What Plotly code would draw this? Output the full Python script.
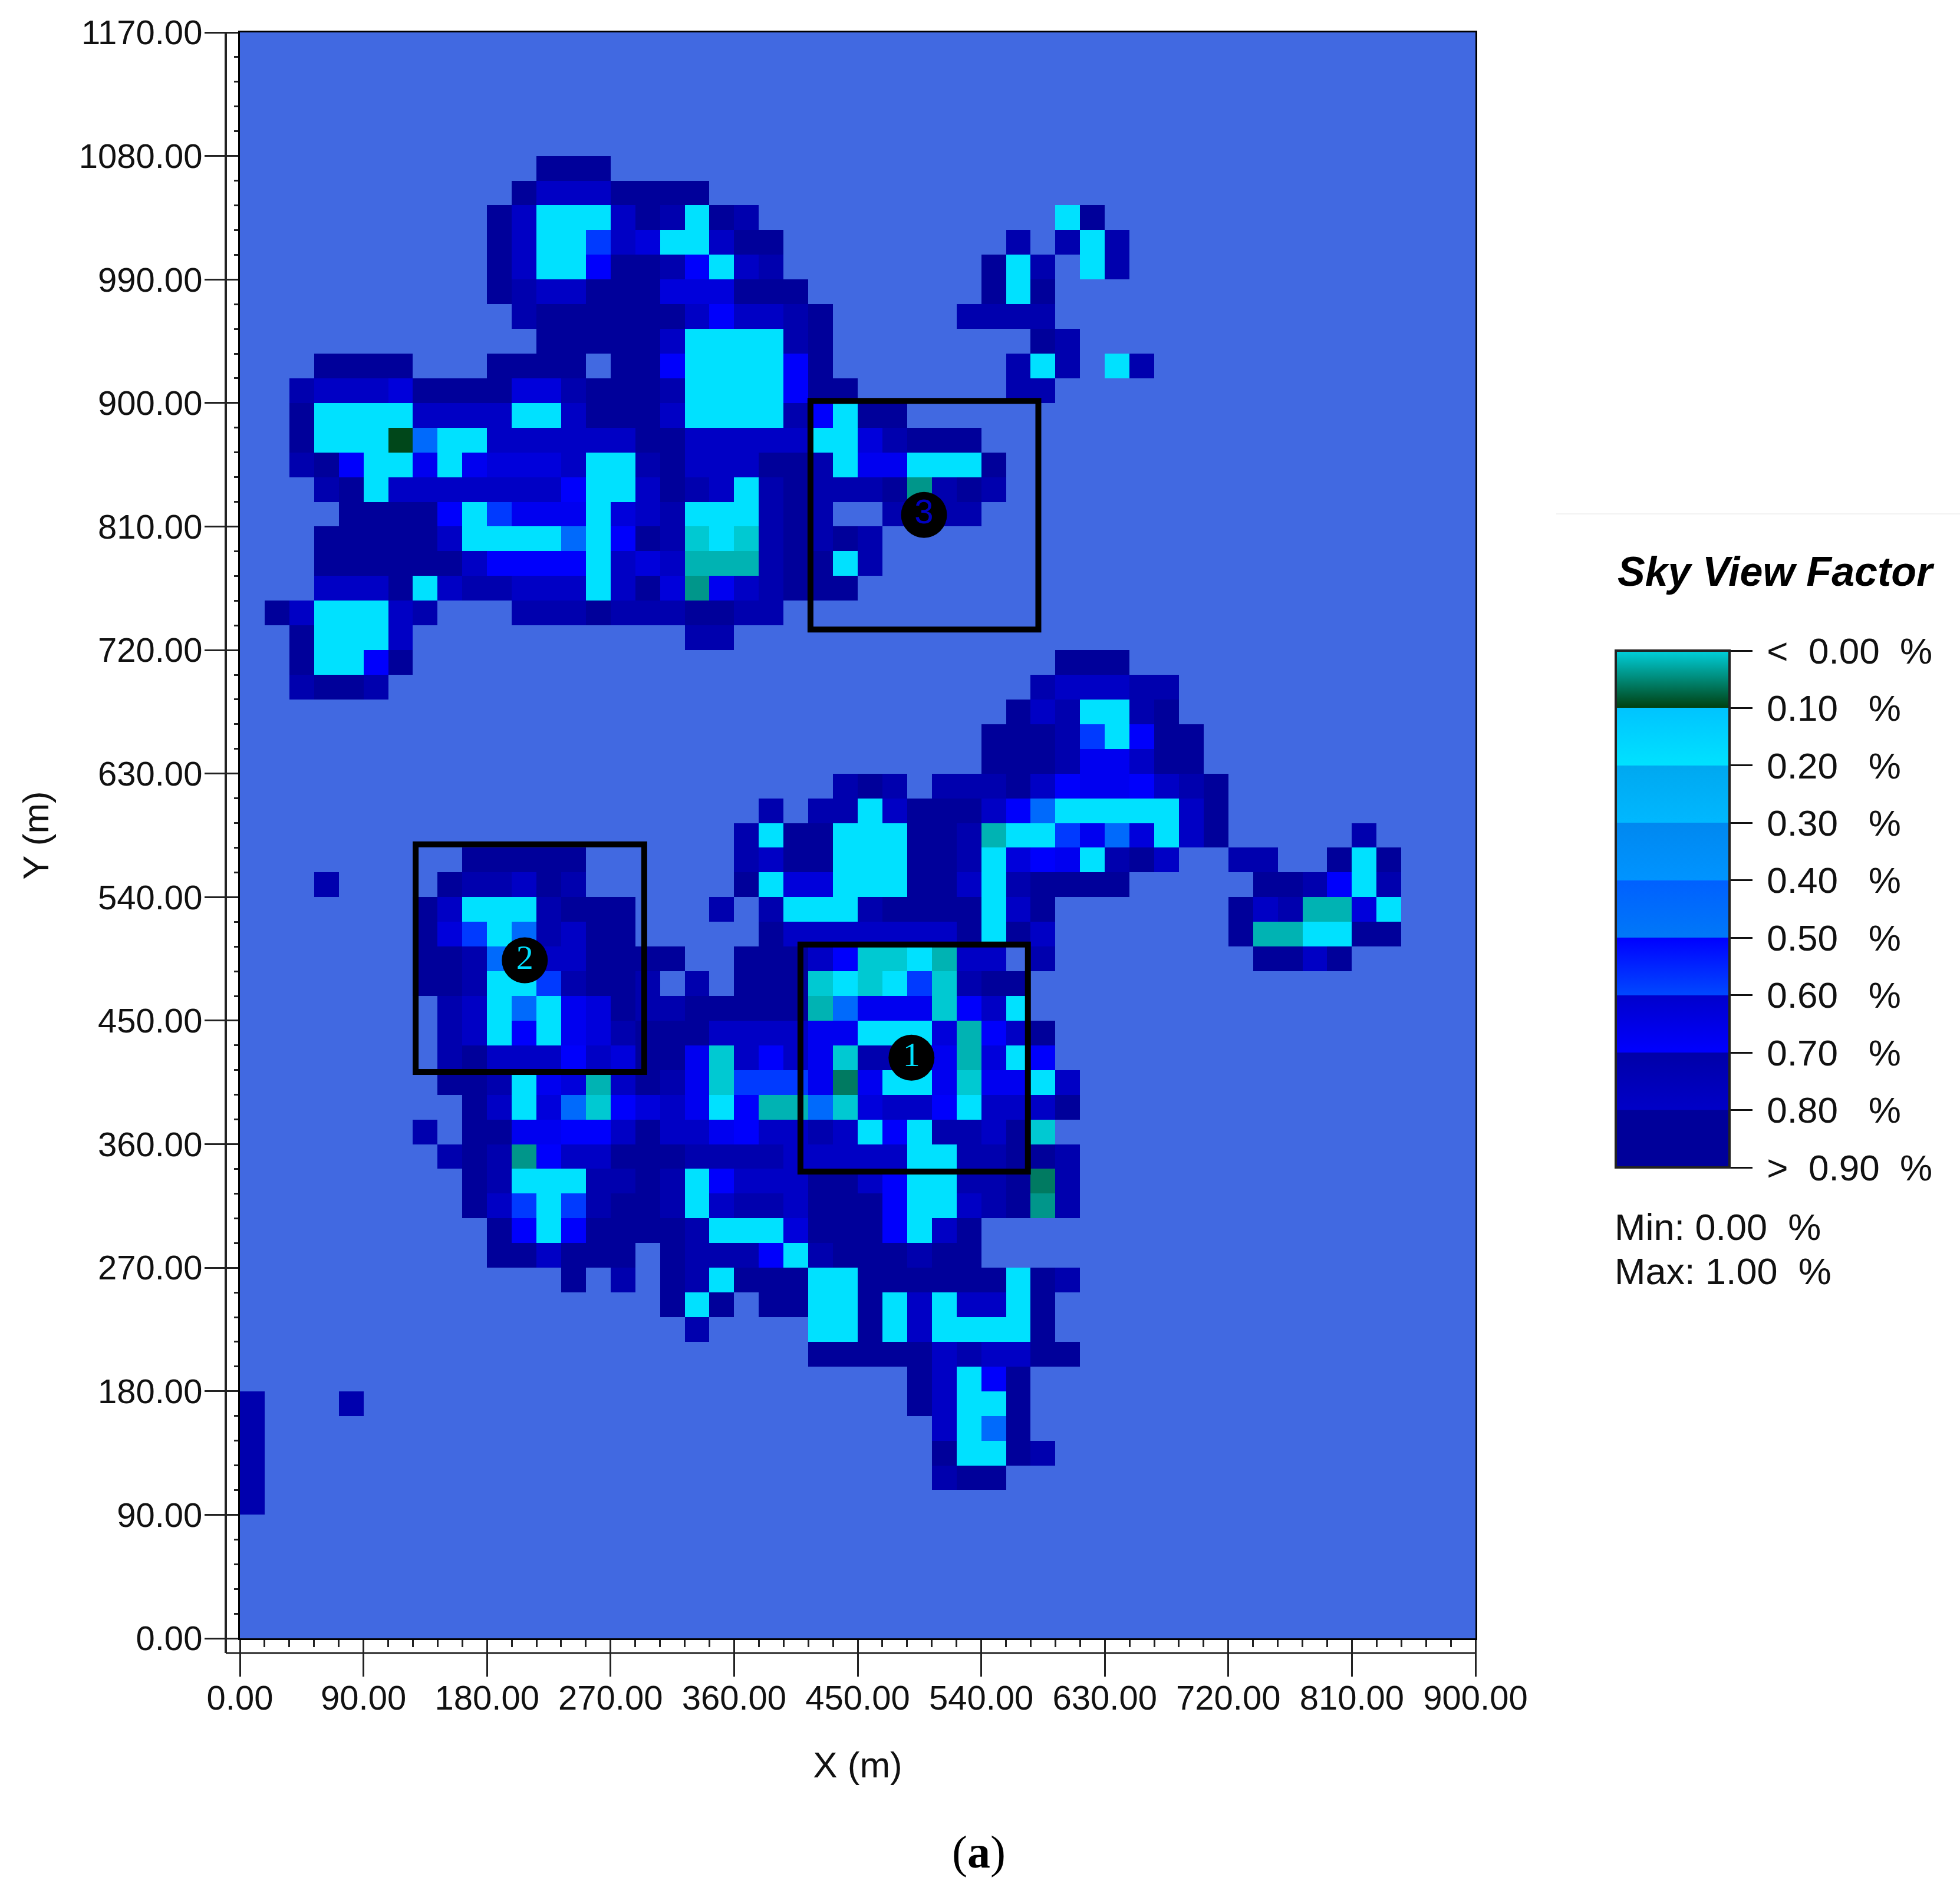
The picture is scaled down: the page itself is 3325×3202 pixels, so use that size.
import plotly.graph_objects as go

WIDTH, HEIGHT = 3325, 3202
PLOT_L, PLOT_R, PLOT_T, PLOT_B = 407, 2503, 55, 2780

# one letter per 18 m cell, top row first (y = 1170 going down), x = 0 going right
# "." is open ground (no building cover drawn), spaces are only for reading
SVF_ROWS = [
    "", "", "", "", "",
    ".......... .. aaa",
    ".......... . a ccc aaaa",
    ".......... a c iii c a b i a b .......... .. i a",
    ".......... a c ii g c d ii c aa ......... b . b i b",
    ".......... a c ii f aa b f i c b ........ a i b . i b",
    ".......... a b cc aaa ddd aaa ....... a i a",
    ".......... . b aaaaa a c f cc b a ..... bbbb",
    ".......... .. aaaaa c iiii b a ........ a b",
    "... aaaa ... aaaa . aa f iiii f a ....... b i b . i b",
    ".. b ccc d aaaa dd b aaa b iiii f aa ...... bb",
    ".. a iiii cccc ii c aaa c iiii b f i aa",
    ".. a iii n h ii cccccc aa ccccc ii d b aaa",
    ".. b a f ii e i e ddd c ii b a ccc aa b i ee iii a",
    "... b a i c cccccc f ii c a b c i b a bbb a l b a b",
    ".... aaaa f i g eee i d c b iii b a b .. bbbb",
    "... aaaaa c iiii h i f a b j i j b a b a b",
    "... aaaaaa c ffff i c d c kkk b aa i b",
    "... ccc a i c bb ccc i c a d l e c b aaa",
    ". a c iii c b ... bbb a bbb aa bb",
    ".. a iii c .......... . bb",
    ".. a ii f a .......... .......... ...... aaa",
    ".. b aa b .......... .......... ...... b ccc bb",
    ".......... .......... .......... . a c b ii b a",
    ".......... .......... .......... a a a b g i f a a",
    ".......... .......... .......... aaa b ee c aa",
    ".......... .......... .... b a b . bbb a c f ee f c b a",
    ".......... .......... . b . bb i c aaa c f h iiiii c a",
    ".......... .......... b i aa iii aa b k ii g e h d i c a ..... b",
    "......... aaaaa ...... b c aa iii aa b i d f e i b a c .. bb .. a i a",
    "... b .... a bb c a b ...... a i dd iii aa c i b aaaa ..... aa b f i b",
    "....... a c iii b a aa ... b . b iii b aaaa i c a ....... a c b kk d i",
    "....... a d g i h b c aa ..... a ccccccc a i a c ....... a kk ii aa",
    "....... aa b h b cc aa aa .. aaa c f jj i k cc . b ........ aa c a",
    "....... aa b ii g b aa b . b . aaa j i j i g j b aa",
    "........ b c i h i e d a bb aaaaa k h eee j f c i",
    "........ b c i f i e d b aaa cccc ee iii d k f c a",
    "........ b a ccc f c d aa e j c f c e j bb d e k d i f",
    "........ aa b i e d k c a b e j ggg e m e ii e j ee i c",
    "......... a c i d h j f d c e i f kk h j d cc f i ccc a",
    "....... b . aa ee ff c a cc e f cc b c i f i bb c a j",
    "........ b a b l f cc aaa bbbb ccccc ii bb a a b",
    "......... a b iii bb a b i f ccc aa c f ii bb a m b",
    "......... a c g i g b aa b i c bb c aaa f ii c b a l b",
    ".......... a f i f aaaa b iii d aaa f i c a",
    ".......... aa c aaa . a b bb f i b aaa b aa",
    ".......... ... a . b . a b i aaa ii aaaaaa i a b",
    ".......... ....... a i a . aa ii a i c i cc i a",
    ".......... ........ b .... ii a i c iiii a",
    ".......... .......... ... aaaaa c b cc aa",
    ".......... .......... ....... a c i f a",
    "b ... b .......... .......... .. a c ii a",
    "b .......... .......... ....... c i h a",
    "b .......... .......... ....... a ii a b",
    "b .......... .......... ....... b aa",
    "b",
    "", "", "", "", "",
]
# sky view factor read for each letter from the legend colours
CELL_VALUES = {
    "a": 0.85, "b": 0.72, "c": 0.79, "d": 0.63, "e": 0.67, "f": 0.695,
    "g": 0.58, "h": 0.44, "i": 0.195, "j": 0.005, "k": 0.02, "l": 0.04,
    "m": 0.06, "n": 0.095,
}
CELL_SIZE = 18

LEGEND_STOPS = [
    (0.0, "#00D0DC"), (0.0999, "#004010"),
    (0.1, "#00C4FF"), (0.1999, "#00E2FF"),
    (0.2, "#00A8F0"), (0.2999, "#00B8FF"),
    (0.3, "#0088F0"), (0.3999, "#0094FF"),
    (0.4, "#0060FF"), (0.4999, "#0078F8"),
    (0.5, "#0000FF"), (0.5999, "#0048FF"),
    (0.6, "#0000CC"), (0.6999, "#0000FF"),
    (0.7, "#0000A8"), (0.7999, "#0000C8"),
    (0.8, "#00009A"), (0.9, "#00009A"),
]
LEGEND_TICKS = [0.0, 0.1, 0.2, 0.3, 0.4, 0.5, 0.6, 0.7, 0.8, 0.9]
NB = "\u00a0"
THIN = "\u2009"
LEGEND_LABELS = [THIN + "<" + NB * 2 + "0.00" + NB * 2 + "%"] + [
    THIN + f"{t:.2f}" + NB * 3 + "%" for t in LEGEND_TICKS[1:-1]
] + [THIN + ">" + NB * 2 + "0.90" + NB * 2 + "%"]

# the three study boxes: x0, x1, y0, y1 in metres
BOXES = [
    (408.3, 574.0, 340.0, 505.5),
    (128.0, 294.5, 412.6, 578.4),
    (415.6, 581.6, 735.0, 901.5),
]
BADGE_X = [489.2, 207.5, 498.3]
BADGE_Y = [423.0, 494.0, 818.5]
BADGE_TEXT = ["1", "2", "3"]
BADGE_COLOR = ["#00E1FF", "#00E1FF", "#0000C0"]
BADGE_FONT = ["Liberation Serif", "Liberation Serif", "Liberation Sans"]

FONT = "Liberation Sans"


def px_x(px):
    return (px - PLOT_L) / (PLOT_R - PLOT_L)


def px_y(px):
    return (PLOT_B - px) / (PLOT_B - PLOT_T)


z = []
for row in SVF_ROWS:
    cells = row.replace(" ", "").ljust(50, ".")
    # the colour bar runs 0 at top to 0.9 at bottom, so the values are drawn negated
    z.append([-CELL_VALUES[c] if c in CELL_VALUES else None for c in cells])

colorscale = [[1 - s / 0.9, col] for s, col in reversed(LEGEND_STOPS)]

fig = go.Figure()
fig.add_trace(go.Heatmap(
    z=z, x0=CELL_SIZE / 2, dx=CELL_SIZE, y0=1170 - CELL_SIZE / 2, dy=-CELL_SIZE,
    zmin=-0.9, zmax=0, colorscale=colorscale, hoverongaps=False,
    colorbar=dict(
        xref="paper", yref="paper", x=px_x(2741), y=px_y(1104),
        xanchor="left", yanchor="top", thicknessmode="pixels", thickness=193,
        lenmode="pixels", len=877, xpad=0, ypad=0,
        outlinecolor="#222222", outlinewidth=4,
        tickmode="array", tickvals=[-t for t in LEGEND_TICKS], ticktext=LEGEND_LABELS,
        ticks="outside", ticklen=37, tickwidth=3, tickcolor="#111111",
        tickfont=dict(family=FONT, size=62, color="#111111"),
    ),
))
fig.add_trace(go.Scatter(
    x=BADGE_X, y=BADGE_Y, mode="markers+text", text=BADGE_TEXT,
    textposition="middle center",
    textfont=dict(family=BADGE_FONT, size=58, color=BADGE_COLOR),
    marker=dict(size=78, color="black"), showlegend=False, hoverinfo="skip",
))

for x0, x1, y0, y1 in BOXES:
    fig.add_shape(type="rect", x0=x0, x1=x1, y0=y0, y1=y1,
                  line=dict(color="black", width=10))

# second, outer axis frame of the original and the faint rule over the legend
fig.add_shape(type="line", xref="paper", yref="paper",
              x0=px_x(383), x1=px_x(383), y0=1, y1=px_y(2805),
              line=dict(color="#222222", width=4))
fig.add_shape(type="line", xref="paper", yref="paper",
              x0=px_x(383), x1=1, y0=px_y(2805), y1=px_y(2805),
              line=dict(color="#222222", width=3))
fig.add_shape(type="line", xref="paper", yref="paper",
              x0=px_x(2640), x1=px_x(3325), y0=px_y(872), y1=px_y(872),
              line=dict(color="#F2F2F2", width=2))

fig.add_annotation(xref="paper", yref="paper", x=px_x(2742), y=px_y(970),
                   xanchor="left", yanchor="middle", showarrow=False,
                   text="<b><i>Sky View Factor</i></b>",
                   font=dict(family=FONT, size=70, color="black"))
fig.add_annotation(xref="paper", yref="paper", x=px_x(2737), y=px_y(2082),
                   xanchor="left", yanchor="middle", showarrow=False,
                   text="Min:" + NB + "0.00" + NB * 2 + "%",
                   font=dict(family=FONT, size=63, color="#111111"))
fig.add_annotation(xref="paper", yref="paper", x=px_x(2737), y=px_y(2157),
                   xanchor="left", yanchor="middle", showarrow=False,
                   text="Max:" + NB + "1.00" + NB * 2 + "%",
                   font=dict(family=FONT, size=63, color="#111111"))
fig.add_annotation(xref="paper", yref="paper", x=px_x(1660), y=px_y(3142),
                   xanchor="center", yanchor="middle", showarrow=False,
                   text="(<b>a</b>)",
                   font=dict(family="Liberation Serif", size=78, color="black"))

axis_font = dict(family=FONT, size=58, color="#111111")
fig.update_layout(
    width=WIDTH, height=HEIGHT, autosize=False,
    margin=dict(l=PLOT_L, r=WIDTH - PLOT_R, t=PLOT_T, b=HEIGHT - PLOT_B, pad=0, autoexpand=False),
    paper_bgcolor="white", plot_bgcolor="#4169E1", showlegend=False,
    xaxis=dict(
        range=[0, 900], dtick=90, tick0=0, tickformat=".2f", showgrid=False, zeroline=False,
        showline=True, linecolor="black", linewidth=3, mirror=True,
        ticks="outside", ticklen=62, tickwidth=3, tickcolor="#222222", tickfont=axis_font,
        ticklabelstandoff=-14,
        minor=dict(dtick=18, tick0=0, ticks="outside", ticklen=12, tickwidth=3, tickcolor="#222222"),
        title=dict(text="X (m)", font=dict(family=FONT, size=62, color="#111111"), standoff=61),
    ),
    yaxis=dict(
        range=[0, 1170], dtick=90, tick0=0, tickformat=".2f", showgrid=False, zeroline=False,
        showline=True, linecolor="black", linewidth=3, mirror=True,
        ticks="outside", ticklen=57, tickwidth=3, tickcolor="#222222", tickfont=axis_font,
        ticklabelstandoff=-8,
        minor=dict(dtick=18, tick0=0, ticks="outside", ticklen=7, tickwidth=3, tickcolor="#222222"),
        title=dict(text="Y (m)", font=dict(family=FONT, size=62, color="#111111"), standoff=32),
    ),
)

fig.write_html("out.html", config={"displayModeBar": False},
               post_script="document.body.style.margin='0';window.dispatchEvent(new Event('resize'));")
